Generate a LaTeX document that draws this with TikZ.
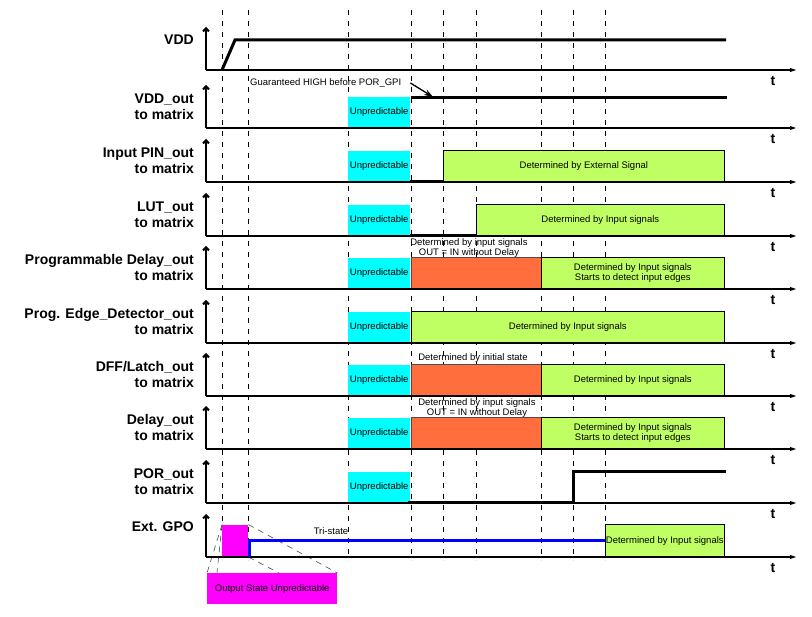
\documentclass[tikz,border=0pt]{standalone}
\usepackage{fontspec}
\setmainfont{Liberation Sans}
\usetikzlibrary{arrows.meta}
\definecolor{cyanU}{RGB}{0,255,255}
\definecolor{limeG}{RGB}{192,255,100}
\definecolor{coralO}{RGB}{255,110,60}
\definecolor{magU}{RGB}{255,0,255}
\definecolor{blueT}{RGB}{0,0,255}
\begin{document}
\begin{tikzpicture}[x=1pt,y=-1pt,
  lbl/.style={font=\fontsize{14}{16}\selectfont\bfseries, align=right, inner sep=0, anchor=south east},
  tlbl/.style={font=\fontsize{14}{16}\selectfont\bfseries, inner sep=0},
  small/.style={font=\fontsize{9.5}{10}\selectfont, inner sep=0, align=center},
  guide/.style={line width=0.9pt, dash pattern=on 5pt off 6pt},
  yaxis/.style={line width=2pt, -{Straight Barb[length=3pt,width=6pt]}},
  taxis/.style={line width=2pt, -{Stealth[length=13pt,width=9pt,inset=9pt]}},
  sig/.style={line width=3pt},
  unpred/.style={fill=cyanU, small, anchor=south west, minimum width=62pt, minimum height=31pt},
  detbox/.style={fill=limeG, draw=black, line width=0.6pt, small, anchor=south west, minimum height=31pt},
  initbox/.style={fill=coralO, draw=black!70, line width=0.6pt, anchor=south west, minimum height=31pt, inner sep=0},
  callout/.style={line width=0.6pt, draw=black!70, dash pattern=on 6pt off 5pt}
]
\useasboundingbox (0,0) rectangle (812,617);

% vertical guide lines
\foreach \gx in {222,248,348,411,443,476,541,573,605}
  \draw[guide] (\gx,10) -- (\gx,560);

% ---------- boxes ----------
% VDD_out
\node[unpred] (u2) at (348,128) {Unpredictable};
% Input PIN_out
\node[unpred] (u3) at (348,182) {Unpredictable};
\node[detbox, minimum width=281pt] (d3) at (443,182) {Determined by External Signal};
% LUT_out
\node[unpred] (u4) at (348,236) {Unpredictable};
\node[detbox, minimum width=248pt] (d4) at (476,236) {Determined by Input signals};
% Programmable Delay_out
\node[unpred] (u5) at (348,289) {Unpredictable};
\node[initbox, minimum width=130pt] (o5) at (411,289) {};
\node[detbox, minimum width=183pt] (d5) at (541,289) {Determined by Input signals\\Starts to detect input edges};
\node[small] (n5) at (469,248) {Determined by input signals\\OUT = IN without Delay};
% Prog. Edge_Detector_out
\node[unpred] (u6) at (348,343) {Unpredictable};
\node[detbox, minimum width=313pt] (d6) at (411,343) {Determined by Input signals};
% DFF/Latch_out
\node[unpred] (u7) at (348,396) {Unpredictable};
\node[initbox, minimum width=130pt] (o7) at (411,396) {};
\node[detbox, minimum width=183pt] (d7) at (541,396) {Determined by Input signals};
\node[small] (n7) at (473,358) {Determined by initial state};
% Delay_out
\node[unpred] (u8) at (348,449) {Unpredictable};
\node[initbox, minimum width=130pt] (o8) at (411,449) {};
\node[detbox, minimum width=183pt] (d8) at (541,449) {Determined by Input signals\\Starts to detect input edges};
\node[small] (n8) at (477,408) {Determined by input signals\\OUT = IN without Delay};
% POR_out
\node[unpred] (u9) at (348,503) {Unpredictable};
% Ext. GPO
\node[fill=magU, anchor=south west, minimum width=26pt, minimum height=32pt, inner sep=0] (g10) at (222,557) {};
\node[detbox, minimum width=119pt, minimum height=32pt] (d10) at (605,557) {Determined by Input signals};
\node[small] (tri) at (331,531) {Tri-state};
\node[fill=magU, small, anchor=north west, minimum width=130pt, minimum height=31pt] (ou) at (207,573) {Output State Unpredictable};

% callout lines
\draw[callout] (g10.north west) -- (ou.north west);
\draw[callout] (g10.north west) -- ([xshift=10pt]ou.north west);
\draw[callout] (g10.north east) -- (ou.north east);
\draw[callout] (g10.south east) -- ([xshift=72pt]ou.north west);

% ---------- axes and labels ----------
\foreach \ay [count=\i] in {70,128,182,236,289,343,396,449,503,557} {
  \coordinate (o\i) at (206,\ay);
  \draw[yaxis] (o\i) -- ++(0,-43);
  \draw[taxis] (o\i) -- ++(590,0);
  \node[tlbl] (t\i) at (773,\ay+11) {t};
}

\node[lbl] (l1) at (194,45) {VDD};
\node[lbl] (l2) at (194,120) {VDD\_out\\to matrix};
\node[lbl] (l3) at (194,174) {Input PIN\_out\\to matrix};
\node[lbl] (l4) at (194,228) {LUT\_out\\to matrix};
\node[lbl] (l5) at (194,281) {Programmable Delay\_out\\to matrix};
\node[lbl] (l6) at (194,335) {Prog. Edge\_Detector\_out\\to matrix};
\node[lbl] (l7) at (194,388) {DFF/Latch\_out\\to matrix};
\node[lbl] (l8) at (194,441) {Delay\_out\\to matrix};
\node[lbl] (l9) at (194,495) {POR\_out\\to matrix};
\node[lbl] (l10) at (194,532) {Ext. GPO};

% ---------- signals ----------
% VDD
\draw[sig, line join=miter] (222,70) -- (235,40) -- (726,40);
% VDD_out
\draw[sig] (411,98) -- (727,98);
\node[small, anchor=west] (guar) at (250,83) {Guaranteed HIGH before POR\_GPI};
\coordinate (hiA) at (433,97);
\draw[line width=1.3pt, -{Stealth[length=9pt,width=6pt]}] ([xshift=9pt]guar.east) -- (hiA);
% Input PIN_out low
\draw[sig] (u3.south east) -- (d3.south west);
% LUT_out low
\draw[sig] (u4.south east) -- (d4.south west);
% POR_out
\draw[sig, line join=miter] (408,503) -- (573,503) -- (573,472) -- (726,472);
% Ext GPO tri-state
\draw[line width=3pt, blueT, line join=miter] (g10.south east) ++(1,0) -- ++(0,-16) -- (d10.west |- 0,541);
\end{tikzpicture}
\end{document}
